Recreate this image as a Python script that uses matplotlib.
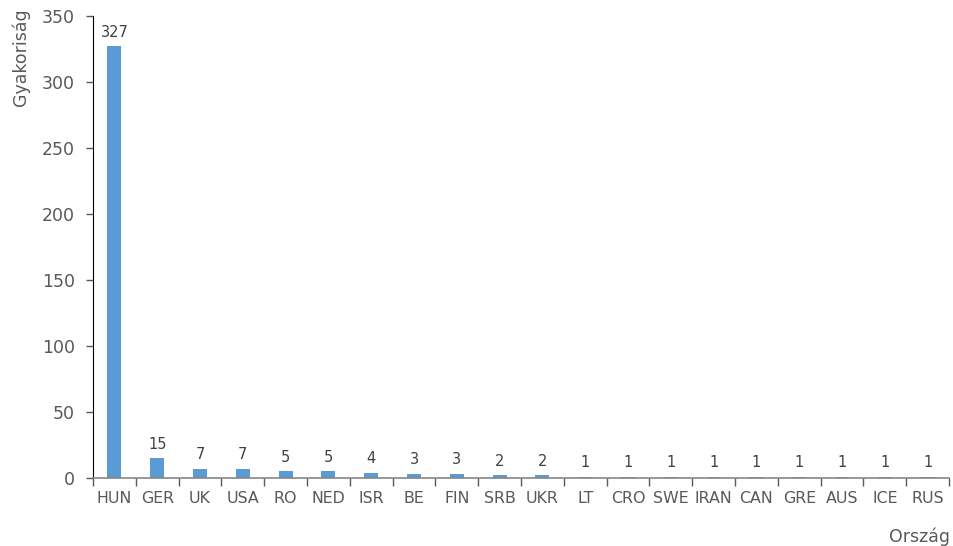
import numpy as np
import matplotlib.pyplot as plt

countries = ['HUN', 'GER', 'UK', 'USA', 'RO', 'NED', 'ISR', 'BE', 'FIN', 'SRB',
             'UKR', 'LT', 'CRO', 'SWE', 'IRAN', 'CAN', 'GRE', 'AUS', 'ICE', 'RUS']
counts = [327, 15, 7, 7, 5, 5, 4, 3, 3, 2, 2, 1, 1, 1, 1, 1, 1, 1, 1, 1]

bar_color = '#5B9BD5'
grey = '#595959'

fig = plt.figure(figsize=(9.54, 5.46), dpi=100)
ax = fig.add_axes([0.0975, 0.1245, 0.8973, 0.8462])

x = np.arange(len(countries))
ax.bar(x, counts, width=0.33, color=bar_color, zorder=2)

# value labels above the bars
for xi, v in zip(x, counts):
    ax.text(xi, v + 5, str(v), ha='center', va='bottom', fontsize=10.5, color='#404040')

ax.set_xlim(-0.5, len(countries) - 0.5)
ax.set_ylim(0, 350)
ax.set_yticks(np.arange(0, 351, 50))
ax.set_xticks(x)
ax.set_xticklabels(countries)
ax.set_xticks(np.arange(-0.5, len(countries)), minor=True)

ax.tick_params(axis='y', labelsize=12.5, labelcolor=grey, color=grey, length=5, width=1, pad=8)
ax.tick_params(axis='x', which='major', length=0, labelsize=11.4, labelcolor=grey, pad=9)
ax.tick_params(axis='x', which='minor', length=6, color=grey, width=1)

for s in ['top', 'right']:
    ax.spines[s].set_visible(False)
ax.spines['left'].set_color('black')
ax.spines['bottom'].set_color('#868686')
ax.spines['bottom'].set_linewidth(1.2)

fig.text(0.022, 0.985, 'Gyakoriság', rotation=90, ha='center', va='top', fontsize=12.5, color=grey)
fig.text(0.996, 0.0, 'Ország', ha='right', va='bottom', fontsize=12.5, color=grey)

fig.savefig('out.png', dpi=100)
